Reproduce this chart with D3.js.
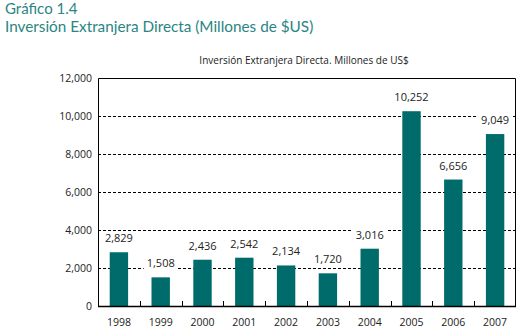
<!DOCTYPE html>
<html>
<head>
<meta charset="utf-8">
<script src="https://cdn.jsdelivr.net/npm/d3@7"></script>
<style>
  body { margin: 0; background: #fff; }
  svg { display: block; }
  .head { font-family: "Lato", "Open Sans", sans-serif; font-weight: 400; fill: #2a8584; }
  .axisText { font-family: "Open Sans", "Liberation Sans", sans-serif; font-size: 10.5px; fill: #222; }
</style>
</head>
<body>
<div id="graphicContainer"></div>
<script>
var years = ["1998", "1999", "2000", "2001", "2002", "2003", "2004", "2005", "2006", "2007"]
var ied = [2829, 1508, 2436, 2542, 2134, 1720, 3016, 10252, 6656, 9049]
var yTicks = [0, 2000, 4000, 6000, 8000, 10000, 12000]

var width = 522, height = 333
var margin = { top: 78, right: 6, bottom: 27, left: 98 }
var w = width - margin.left - margin.right
var h = height - margin.top - margin.bottom

var svg = d3.select("#graphicContainer").append("svg")
  .attr("width", width)
  .attr("height", height)

svg.append("text").attr("class", "head")
  .attr("x", 5).attr("y", 14)
  .style("font-size", "15px")
  .text("Gráfico 1.4")

svg.append("text").attr("class", "head")
  .attr("x", 5).attr("y", 32)
  .style("font-size", "15.3px")
  .text("Inversión Extranjera Directa (Millones de $US)")

svg.append("text").attr("class", "axisText")
  .attr("x", 304).attr("y", 64)
  .attr("text-anchor", "middle")
  .style("font-size", "10px")
  .text("Inversión Extranjera Directa. Millones de US$")

var features = svg.append("g").attr("transform", "translate(" + margin.left + "," + margin.top + ")")

var x = d3.scaleBand().domain(years).range([0, w]).paddingInner(0.56).paddingOuter(0.28)
var xb = d3.scaleBand().domain(years).range([0, w])
var y = d3.scaleLinear().domain([0, 12000]).range([h, 0])

// dashed grid
features.selectAll(".grid")
  .data(yTicks.filter(function (d) { return d > 0 && d < 12000 }))
  .enter().append("line")
  .attr("x1", 0).attr("x2", w)
  .attr("y1", function (d) { return Math.round(y(d)) + 0.5 })
  .attr("y2", function (d) { return Math.round(y(d)) + 0.5 })
  .attr("stroke", "#000")
  .attr("stroke-width", 1)
  .attr("stroke-dasharray", "3,2")

// y labels
features.selectAll(".ylab")
  .data(yTicks)
  .enter().append("text")
  .attr("class", "axisText")
  .attr("x", -6)
  .attr("y", function (d) { return y(d) + 4 })
  .attr("text-anchor", "end")
  .text(function (d) { return d3.format(",")(d) })

features.selectAll(".bar")
  .data(ied)
  .enter().append("rect")
  .attr("x", function (d, i) { return x(years[i]) })
  .attr("y", function (d) { return y(d) })
  .attr("width", x.bandwidth())
  .attr("height", function (d) { return h - y(d) })
  .attr("fill", "#006b6b")

// value labels with white backing
var lab = features.selectAll(".vlab")
  .data(ied)
  .enter().append("g")
  .attr("transform", function (d, i) {
    return "translate(" + (x(years[i]) + x.bandwidth() / 2) + "," + (y(d) - 12) + ")"
  })

lab.append("rect")
  .attr("x", -17).attr("y", -9)
  .attr("width", 34).attr("height", 13)
  .attr("fill", "#fff")

lab.append("text")
  .attr("class", "axisText")
  .attr("text-anchor", "middle")
  .attr("y", 2)
  .style("font-size", "11px")
  .text(function (d) { return d3.format(",")(d) })

// frame
features.append("path")
  .attr("d", "M0.5," + h + "V0.5H" + (w - 0.5) + "V" + h)
  .attr("fill", "none")
  .attr("stroke", "#000")

// x axis
features.append("line")
  .attr("x1", 0).attr("x2", w)
  .attr("y1", h + 0.5).attr("y2", h + 0.5)
  .attr("stroke", "#000").attr("stroke-width", 1.5)

features.selectAll(".xtick")
  .data(years.slice(1))
  .enter().append("line")
  .attr("x1", function (d) { return Math.round(xb(d)) + 0.5 })
  .attr("x2", function (d) { return Math.round(xb(d)) + 0.5 })
  .attr("y1", h - 5).attr("y2", h)
  .attr("stroke", "#000")

features.selectAll(".xlab")
  .data(years)
  .enter().append("text")
  .attr("class", "axisText")
  .attr("x", function (d) { return xb(d) + xb.bandwidth() / 2 })
  .attr("y", h + 20)
  .attr("text-anchor", "middle")
  .text(function (d) { return d })
</script>
</body>
</html>
